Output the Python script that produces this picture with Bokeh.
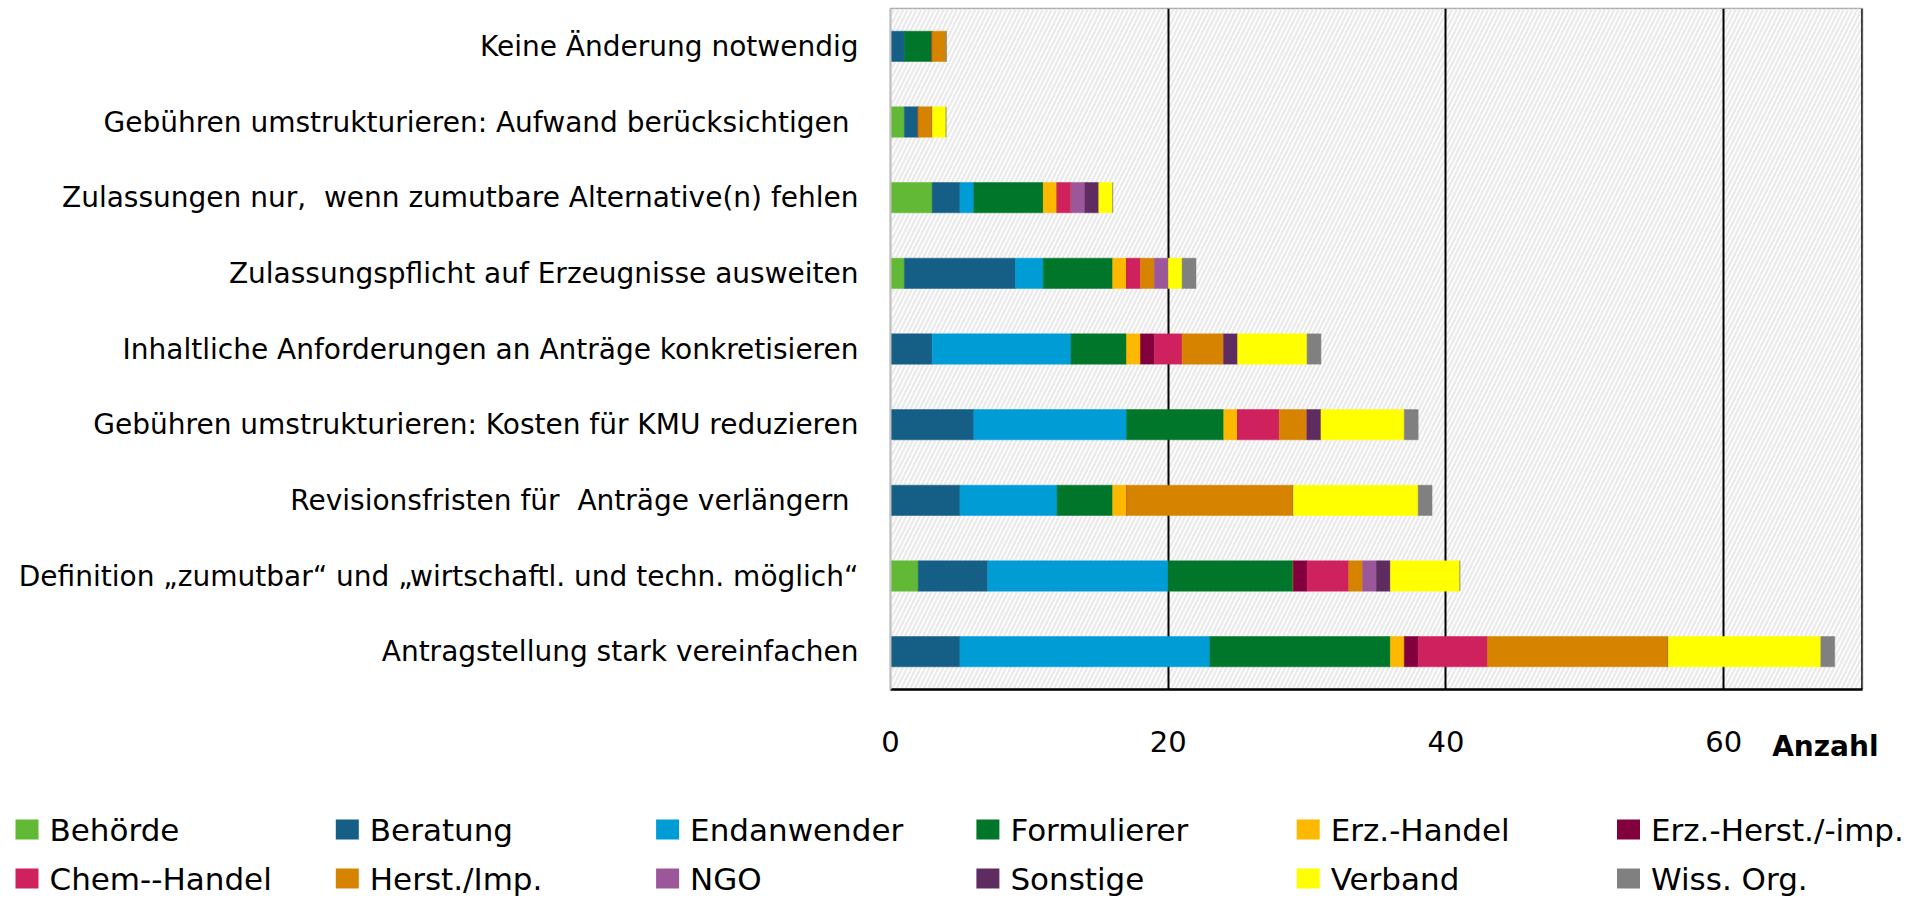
from bokeh.plotting import figure
from bokeh.models import (ColumnDataSource, FactorRange, Range1d, FixedTicker,
                          BoxAnnotation, Span, Title)
from bokeh.layouts import column
from bokeh.embed import file_html
from bokeh.resources import INLINE
from bokeh.core.properties import value

# ---------------- data ----------------
categories = [
    "Keine Änderung notwendig",
    "Gebühren umstrukturieren: Aufwand berücksichtigen ",
    "Zulassungen nur,\u00a0 wenn zumutbare Alternative(n) fehlen",
    "Zulassungspflicht auf Erzeugnisse ausweiten",
    "Inhaltliche Anforderungen an Anträge konkretisieren",
    "Gebühren umstrukturieren: Kosten für KMU reduzieren",
    "Revisionsfristen für\u00a0 Anträge verlängern ",
    "Definition „zumutbar“ und „wirtschaftl. und techn. möglich“",
    "Antragstellung stark vereinfachen",
]

series_names = ["Behörde", "Beratung", "Endanwender", "Formulierer", "Erz.-Handel",
                "Erz.-Herst./-imp.", "Chem--Handel", "Herst./Imp.", "NGO",
                "Sonstige", "Verband", "Wiss. Org."]

behoerde      = [0, 1, 3, 1, 0, 0, 0, 2, 0]
beratung      = [1, 1, 2, 8, 3, 6, 5, 5, 5]
endanwender   = [0, 0, 1, 2, 10, 11, 7, 13, 18]
formulierer   = [2, 0, 5, 5, 4, 7, 4, 9, 13]
erz_handel    = [0, 0, 1, 1, 1, 1, 1, 0, 1]
erz_herst     = [0, 0, 0, 0, 1, 0, 0, 1, 1]
chem_handel   = [0, 0, 1, 1, 2, 3, 0, 3, 5]
herst_imp     = [1, 1, 0, 1, 3, 2, 12, 1, 13]
ngo           = [0, 0, 1, 1, 0, 0, 0, 1, 0]
sonstige      = [0, 0, 1, 0, 1, 1, 0, 1, 0]
verband       = [0, 1, 1, 1, 5, 6, 9, 5, 11]
wiss_org      = [0, 0, 0, 1, 1, 1, 1, 0, 1]

x_ticks = [0, 20, 40, 60]
x_title = "Anzahl"

series_values = [behoerde, beratung, endanwender, formulierer, erz_handel, erz_herst,
                 chem_handel, herst_imp, ngo, sonstige, verband, wiss_org]

colors = ["#62b935", "#155e86", "#009cd6", "#00762a", "#fcb900", "#82003c",
          "#d0215f", "#d68400", "#9c579b", "#5f2c62", "#ffff00", "#808080"]

FONT = "DejaVu Sans"

# ---------------- main chart ----------------
keys = ["s%d" % i for i in range(len(series_names))]
data = {"cat": categories}
for k, vals in zip(keys, series_values):
    data[k] = vals
source = ColumnDataSource(data)

p = figure(width=1915, height=778, output_backend="svg", toolbar_location=None,
           x_range=Range1d(0, 70), y_range=FactorRange(factors=list(reversed(categories))),
           min_border_left=890, min_border_right=53, min_border_top=8,
           min_border_bottom=89)
p.frame_align = False

hatch = BoxAnnotation(fill_color=None, line_color=None, hatch_pattern="/",
                      hatch_color="#ebebeb", hatch_weight=2.5, hatch_scale=9,
                      level="image")
p.add_layout(hatch)

p.hbar_stack(keys, y="cat", height=0.4, color=colors, line_width=0.5, source=source)

p.xaxis.ticker = FixedTicker(ticks=x_ticks)
p.xgrid.ticker = FixedTicker(ticks=[t for t in x_ticks if t > 0])
p.xgrid.grid_line_color = "black"
p.xgrid.grid_line_width = 2
p.ygrid.grid_line_color = None

p.xaxis.axis_line_color = "black"
p.xaxis.axis_line_width = 2.5
p.xaxis.major_tick_line_color = None
p.xaxis.minor_tick_line_color = None
p.xaxis.major_tick_out = 0
p.xaxis.major_tick_in = 0
p.xaxis.major_label_standoff = 41
p.xaxis.major_label_text_font = FONT
p.xaxis.major_label_text_font_size = "29px"
p.xaxis.major_label_text_color = "black"

p.yaxis.axis_line_color = "#bfbfbf"
p.yaxis.axis_line_width = 2
p.yaxis.major_tick_line_color = None
p.yaxis.minor_tick_line_color = None
p.yaxis.major_tick_out = 0
p.yaxis.major_tick_in = 0
p.yaxis.major_label_standoff = 32
p.yaxis.major_label_text_font = FONT
p.yaxis.major_label_text_font_size = "28px"
p.yaxis.major_label_text_color = "black"

p.outline_line_color = "#a6a6a6"
p.outline_line_width = 1.5
p.add_layout(Span(location=70, dimension="height", line_color="black", line_width=2.5))

p.add_layout(Title(text=x_title, align="right", offset=-16, standoff=-50,
                   vertical_align="top",
                   text_font=FONT, text_font_size="28px", text_font_style="bold",
                   text_color="black"), "below")

# ---------------- legend ----------------
ncols = 6
col_w = 320.3
row_y = [51, 100]
left = [15 + (i % ncols) * col_w for i in range(len(series_names))]
lx = [l + 11.5 for l in left]
ly = [row_y[i // ncols] for i in range(len(series_names))]
tx = [l + 34 for l in left]
leg_src = ColumnDataSource(dict(x=lx, y=ly, tx=tx, label=series_names, color=colors))

p2 = figure(width=1915, height=122, output_backend="svg", toolbar_location=None,
            x_range=Range1d(0, 1915), y_range=Range1d(122, 0),
            min_border_left=0, min_border_right=0, min_border_top=0, min_border_bottom=0)
p2.frame_align = False
p2.axis.visible = False
p2.grid.visible = False
p2.outline_line_color = None
p2.rect(x="x", y="y", width=23, height=20, fill_color="color", line_color=None,
        source=leg_src)
p2.text(x="tx", y="y", text="label", text_font=value(FONT), text_font_size="31px",
        text_baseline="middle", text_align="left", text_color="black", source=leg_src)

layout = column(p, p2)
open("out.html", "w").write(file_html(layout, INLINE))
